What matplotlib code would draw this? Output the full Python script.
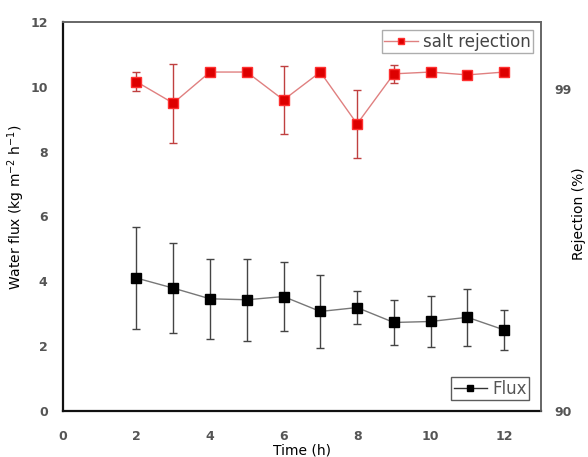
import matplotlib
matplotlib.use("Agg")
import matplotlib.pyplot as plt
from matplotlib.lines import Line2D

time_h = [2, 3, 4, 5, 6, 7, 8, 9, 10, 11, 12]
flux = [4.10, 3.79, 3.46, 3.43, 3.53, 3.07, 3.19, 2.73, 2.76, 2.89, 2.50]
flux_err = [1.57, 1.38, 1.24, 1.27, 1.05, 1.13, 0.52, 0.69, 0.80, 0.88, 0.61]
rejection = [99.20, 98.60, 99.47, 99.47, 98.69, 99.47, 98.02, 99.42, 99.47, 99.39, 99.47]
rejection_err = [0.26, 1.10, 0.03, 0.03, 0.95, 0.03, 0.96, 0.25, 0.10, 0.03, 0.03]

x_ticks = [0, 2, 4, 6, 8, 10, 12]
y_ticks = [0, 2, 4, 6, 8, 10, 12]
r_ticks = [90, 99]

fig = plt.figure(figsize=(5.88, 4.57), dpi=100)
ax = fig.add_axes([0.107, 0.1007, 0.813, 0.8513])
ax2 = ax.twinx()

tick_color = "#555555"

ax.errorbar(time_h, flux, yerr=flux_err, color="#777777", lw=1.0,
            marker="s", ms=7, mfc="black", mec="black",
            ecolor="#444444", elinewidth=1.0, capsize=3)
ax2.errorbar(time_h, rejection, yerr=rejection_err, color="#e08080", lw=1.0,
             marker="s", ms=7, mfc="#dd0000", mec="#ff3030",
             ecolor="#c04040", elinewidth=1.0, capsize=3)

ax.set_xlim(0, 13)
ax.set_ylim(0, 12)
ax2.set_ylim(90, 100.87)
ax.set_xticks(x_ticks)
ax.set_yticks(y_ticks)
ax2.set_yticks(r_ticks)

for a in (ax, ax2):
    a.tick_params(length=0, labelsize=9, labelcolor=tick_color)
    for lab in a.get_xticklabels() + a.get_yticklabels():
        lab.set_fontweight("bold")
ax.tick_params(axis="x", pad=14)
ax.tick_params(axis="y", pad=11)
ax2.tick_params(axis="y", pad=10)

for name in ("left", "bottom"):
    ax.spines[name].set_linewidth(1.6)
    ax.spines[name].set_color("#111111")
for a in (ax, ax2):
    a.spines["top"].set_color("#666666")
    a.spines["top"].set_linewidth(1.2)
    a.spines["right"].set_color("#666666")
    a.spines["right"].set_linewidth(1.2)
ax2.spines["left"].set_visible(False)
ax2.spines["bottom"].set_visible(False)

ax.set_xlabel("Time (h)", fontsize=10, labelpad=0)
ax.set_ylabel("Water flux (kg m$^{-2}$ h$^{-1}$)", fontsize=10)
ax.yaxis.set_label_coords(-0.076, 0.524)
ax2.set_ylabel("Rejection (%)", fontsize=10)
ax2.yaxis.set_label_coords(1.064, 0.506)

h_flux = Line2D([], [], color="#333333", lw=1.0, marker="s", ms=5,
                mfc="black", mec="black")
h_rej = Line2D([], [], color="#e08080", lw=1.0, marker="s", ms=5,
               mfc="#dd0000", mec="#ff3030")

leg1 = ax.legend([h_flux], ["Flux"], loc="lower right", fontsize=12,
                 frameon=True, fancybox=False, edgecolor="#333333",
                 handlelength=2.0, borderpad=0.15, handletextpad=0.3,
                 borderaxespad=0, bbox_to_anchor=(0.975, 0.028))
leg1.get_frame().set_linewidth(1.0)
for t in leg1.get_texts():
    t.set_color("#555555")
leg2 = ax2.legend([h_rej], ["salt rejection"], loc="upper right", fontsize=12,
                  frameon=True, fancybox=False, edgecolor="#999999",
                  handlelength=2.0, borderpad=0.15, handletextpad=0.3,
                  borderaxespad=0, bbox_to_anchor=(0.983, 0.979))
leg2.get_frame().set_linewidth(1.0)
for t in leg2.get_texts():
    t.set_color("#444444")

fig.savefig("out.png", dpi=100)
